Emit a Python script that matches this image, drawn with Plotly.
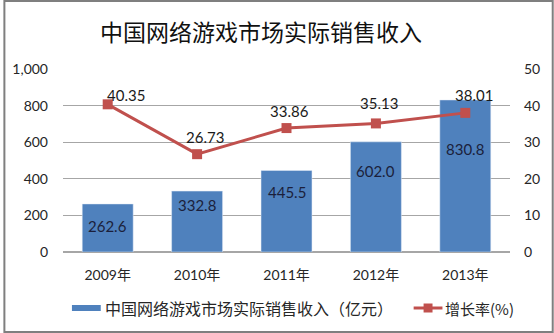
import plotly.graph_objects as go

years = ["2009年", "2010年", "2011年", "2012年", "2013年"]
revenue = [262.6, 332.8, 445.5, 602.0, 830.8]
growth = [40.35, 26.73, 33.86, 35.13, 38.01]
left_ticks = [0, 200, 400, 600, 800, 1000]
left_tick_text = ["0", "200", "400", "600", "800", "1,000"]
right_ticks = [0, 10, 20, 30, 40, 50]
bar_name = "中国网络游戏市场实际销售收入（亿元）"
line_name = "增长率(%)"

num_font = "Lato, Liberation Sans, sans-serif"
cjk_font = "Lato, Noto Sans CJK SC, sans-serif"
bar_color = "#4F81BD"
line_color = "#C0504D"

# pixel offsets of the value labels relative to their marks
bar_label_drop = [22, 14, 22, 29, 49]
line_label_dx = [18, 8, 3, 3, 9]
line_label_dy = [9, 17, 17, 20, 18]

fig = go.Figure()
fig.add_trace(go.Bar(
    x=years, y=revenue, name=bar_name, marker=dict(color=bar_color),
    width=0.57, yaxis="y", showlegend=False,
))
fig.add_trace(go.Scatter(
    x=years, y=growth, name=line_name, mode="lines+markers",
    line=dict(color=line_color, width=3),
    marker=dict(symbol="square", size=10, color=line_color),
    yaxis="y2", cliponaxis=False, showlegend=False,
))

annotations = []
for i, (yr, v) in enumerate(zip(years, revenue)):
    annotations.append(dict(x=yr, y=v, xref="x", yref="y", text=f"{v:.1f}",
                            showarrow=False, yanchor="middle", yshift=-bar_label_drop[i],
                            font=dict(family=num_font, size=15, color="#1b1f3b")))
for i, (yr, g) in enumerate(zip(years, growth)):
    annotations.append(dict(x=yr, y=g, xref="x", yref="y2", text=f"{g:.2f}",
                            showarrow=False, yanchor="middle",
                            xshift=line_label_dx[i], yshift=line_label_dy[i],
                            font=dict(family=num_font, size=15, color="#1a1a1a")))

# legend drawn in pixel space below the axis
W, H = 554, 333
L, R, T, B = 60, 44, 69, 81
pw, ph = W - L - R, H - T - B


def px(x):
    return (x - L) / pw


def py(y):
    return (H - B - y) / ph


leg_y = 308
shapes = [
    dict(type="rect", xref="paper", yref="paper", x0=px(69), x1=px(98),
         y0=py(leg_y + 3), y1=py(leg_y - 3), fillcolor=bar_color, line=dict(width=0)),
    dict(type="line", xref="paper", yref="paper", x0=px(413), x1=px(442),
         y0=py(leg_y), y1=py(leg_y), line=dict(color=line_color, width=3)),
    dict(type="rect", xref="paper", yref="paper", x0=px(423), x1=px(432),
         y0=py(leg_y + 4.5), y1=py(leg_y - 4.5), fillcolor=line_color, line=dict(width=0)),
    # outer frame
    dict(type="rect", xref="paper", yref="paper", x0=px(1), x1=px(W - 1),
         y0=py(H - 1), y1=py(1), line=dict(color="#7F7F7F", width=2)),
]
annotations += [
    dict(x=px(100), y=py(leg_y), xref="paper", yref="paper", text=bar_name,
         showarrow=False, xanchor="left", yanchor="middle",
         font=dict(family="Noto Sans CJK SC, sans-serif", size=16, color="#262626")),
    dict(x=px(443), y=py(leg_y), xref="paper", yref="paper", text=line_name,
         showarrow=False, xanchor="left", yanchor="middle",
         font=dict(family="Noto Sans CJK SC, sans-serif", size=15, color="#262626")),
]

fig.update_layout(
    width=W, height=H,
    margin=dict(l=L, r=R, t=T, b=B),
    paper_bgcolor="white", plot_bgcolor="white",
    font=dict(family=num_font, color="#262626", size=14),
    title=dict(text="中国网络游戏市场实际销售收入", x=261 / W, xanchor="center",
               xref="container", y=1 - 33 / H, yanchor="middle",
               font=dict(family="Noto Sans CJK SC, sans-serif", size=23, color="#111111")),
    xaxis=dict(showgrid=False, showline=False, ticks="", ticklabelstandoff=13,
               tickfont=dict(family=cjk_font, size=14)),
    yaxis=dict(range=[0, 1000], tickvals=left_ticks, ticktext=left_tick_text,
               showgrid=True, gridcolor="#A6A6A6", gridwidth=1, zeroline=True,
               zerolinecolor="#A6A6A6", ticks="", ticklabelstandoff=14),
    yaxis2=dict(range=[0, 50], tickvals=right_ticks, overlaying="y", side="right",
                showgrid=False, zeroline=False, ticks="", ticklabelstandoff=13),
    showlegend=False,
    shapes=shapes,
    annotations=annotations,
)

fig.write_html("out.html")
